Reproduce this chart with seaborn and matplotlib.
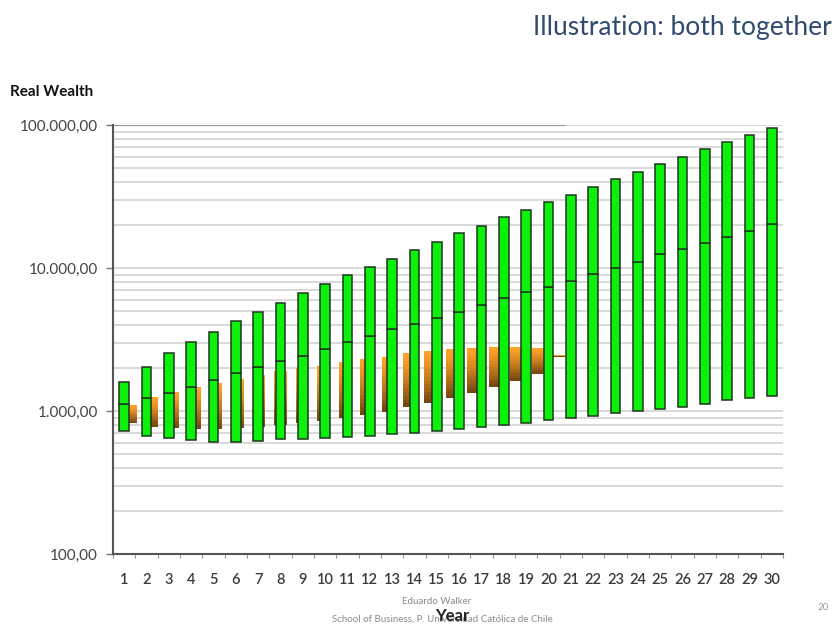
import numpy as np
import matplotlib
matplotlib.use('Agg')
import matplotlib.pyplot as plt
import matplotlib.ticker as mticker
import seaborn as sns

# simulated real wealth, green = long horizon, orange = shorter overlay
years = list(range(1, 31))
green_high = [1603, 2040, 2544, 3038, 3585, 4261, 4948, 5719, 6686, 7731,
              8933, 10160, 11560, 13360, 15270, 17480, 19760, 22620, 25440, 28800,
              32390, 37030, 41720, 47140, 53380, 59450, 67640, 75680, 85120, 95750]
green_mid = [1119, 1233, 1336, 1472, 1647, 1844, 2031, 2247, 2436, 2714,
             3038, 3362, 3715, 4058, 4470, 4948, 5511, 6140, 6828, 7400,
             8112, 9080, 9952, 11070, 12470, 13510, 14880, 16390, 18230, 20310]
green_low = [728, 672, 647, 627, 610, 610, 620, 634, 637, 644,
             655, 672, 685, 698, 725, 748, 777, 798, 828, 865,
             898, 927, 964, 1000, 1038, 1072, 1114, 1194, 1227, 1273]

orange_idx = list(range(1, 22))
orange_high = [1101, 1247, 1351, 1465, 1577, 1674, 1785, 1913, 1989, 2074,
               2212, 2310, 2398, 2532, 2628, 2714, 2745, 2817, 2817, 2772, 2445]
orange_low = [820, 777, 757, 745, 745, 757, 769, 798, 820, 855,
              889, 938, 989, 1061, 1143, 1227, 1330, 1465, 1629, 1815, 2405]

y_ticks = [100, 1000, 10000, 100000]
y_labels = ['100,00', '1.000,00', '10.000,00', '100.000,00']

sns.set_style('white')
plt.rcParams['font.family'] = ['Lato', 'DejaVu Sans']

fig = plt.figure(figsize=(8.39, 6.24), dpi=100)
ax = fig.add_axes([113/839, 70/624, 670/839, 429/624])
ax.set_yscale('log')
ax.set_ylim(100, 100000)
ax.set_xlim(0.5, 30.5)

# gridlines
ax.yaxis.set_minor_locator(mticker.LogLocator(base=10, subs=np.arange(2, 10)))
ax.grid(True, which='both', axis='y', color='#d6d6d6', lw=1.3)
ax.set_axisbelow(True)
ax.axhline(100000, xmax=(565 - 113) / 670, color='#9a9a9a', lw=1.6, zorder=1)

# orange bars (overlaid chart, slightly compressed x positions), gradient orange->brown
ox = 1.28 + (np.array(orange_idx) - 1) * 0.96
top_c = np.array(matplotlib.colors.to_rgb('#ffa228'))
bot_c = np.array(matplotlib.colors.to_rgb('#6e4210'))
nseg = 14
for x, lo, hi in zip(ox, orange_low, orange_high):
    edges = np.logspace(np.log10(lo), np.log10(hi), nseg + 1)
    for k in range(nseg):
        t = (k + 0.5) / nseg
        c = bot_c * (1 - t) ** 1.4 + top_c * (1 - (1 - t) ** 1.4)
        ax.bar(x, edges[k + 1] - edges[k], bottom=edges[k], width=0.55,
               color=c, lw=0, zorder=2)

# green bars: low->median and median->high segments
g = np.array(years)
ax.bar(g, np.array(green_mid) - np.array(green_low), bottom=green_low, width=0.42,
       color='#0cf00c', edgecolor='#1c361c', lw=1.1, zorder=3)
ax.bar(g, np.array(green_high) - np.array(green_mid), bottom=green_mid, width=0.42,
       color='#0cf00c', edgecolor='#1c361c', lw=1.1, zorder=3)

# axes styling
for s in ['top', 'right']:
    ax.spines[s].set_visible(False)
for s in ['left', 'bottom']:
    ax.spines[s].set_color('#555555')
    ax.spines[s].set_linewidth(1.5)

ax.set_yticks(y_ticks)
ax.set_yticklabels(y_labels, fontsize=11, color='#444444')
ax.tick_params(axis='y', which='major', left=True, length=5, width=1, color='#777777', pad=6)
ax.tick_params(axis='y', which='minor', left=False)

ax.set_xticks(years)
ax.set_xticklabels([str(y) for y in years], fontsize=10.5, color='#3a3a3a', fontweight='semibold')
ax.xaxis.set_minor_locator(mticker.FixedLocator(np.arange(0.5, 31, 1)))
ax.tick_params(axis='x', which='major', bottom=False, pad=10)
ax.tick_params(axis='x', which='minor', bottom=True, length=3, width=0.8, color='#999999')

# texts
fig.text(832/839, 1 - 27/624, 'Illustration: both together', ha='right', va='center',
         fontsize=19, color='#2f4b6e')
fig.text(10/839, 1 - 92/624, 'Real Wealth', ha='left', va='center',
         fontsize=11, fontweight='bold', color='#111111')
fig.text(437/839, 1 - 602/624, 'Eduardo Walker', ha='center', va='center',
         fontsize=7, color='#8a8a8a')
fig.text(442/839, 1 - 619/624, 'School of Business, P. Universidad Católica de Chile',
         ha='center', va='center', fontsize=7, color='#8a8a8a')
fig.text(452/839, 1 - 616/624, 'Year', ha='center', va='center',
         fontsize=12, fontweight='bold', color='#222222')
fig.text(823/839, 1 - 607/624, '20', ha='center', va='center', fontsize=7, color='#9a9a9a')

fig.savefig('out.png', dpi=100)
